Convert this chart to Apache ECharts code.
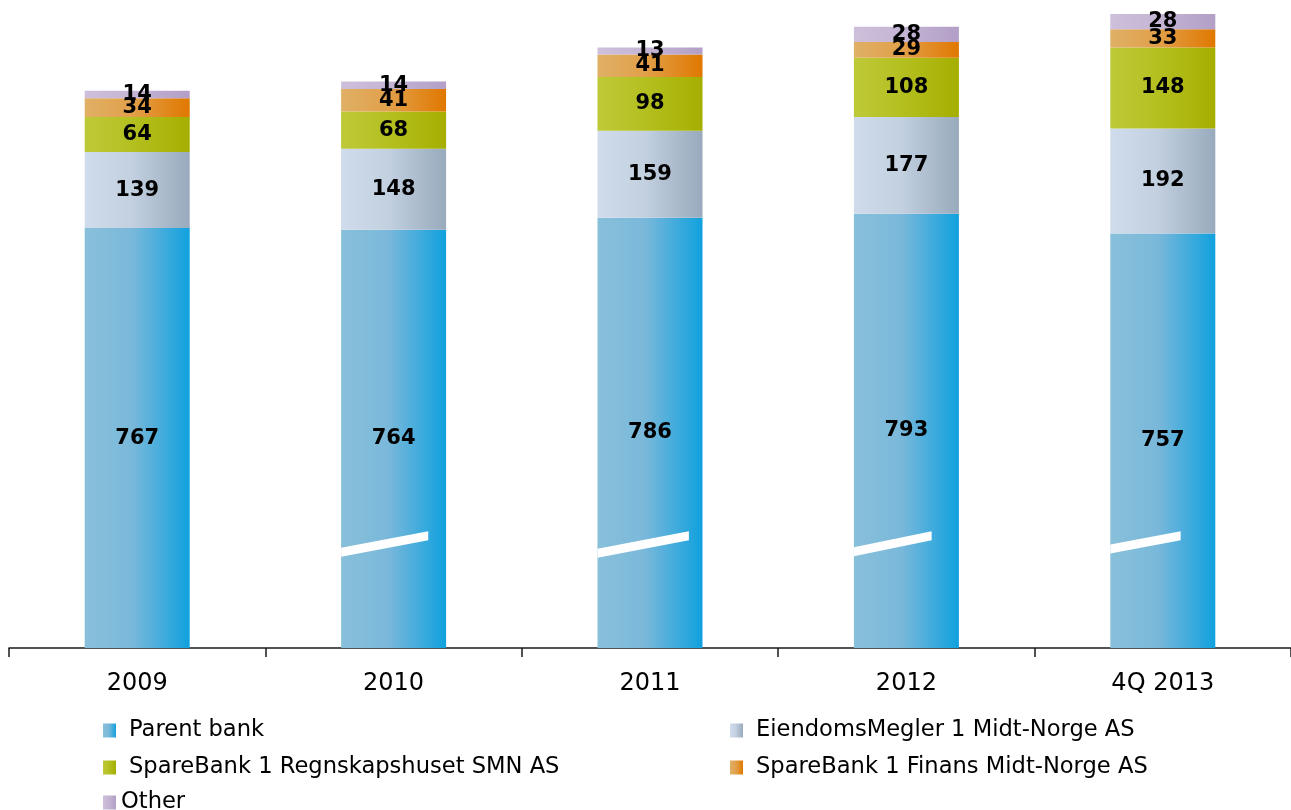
<!DOCTYPE html>
<html>
<head>
<meta charset="utf-8">
<script src="https://cdn.jsdelivr.net/npm/echarts@6/dist/echarts.min.js"></script>
<style>
html,body{margin:0;padding:0;background:#fff;}
#chart{width:1291px;height:810px;}
</style>
</head>
<body>
<div id="chart"></div>
<script>
const categories = ['2009', '2010', '2011', '2012', '4Q 2013'];
const parentBank = [767, 764, 786, 793, 757];
const eiendomsMegler = [139, 148, 159, 177, 192];
const regnskapshuset = [64, 68, 98, 108, 148];
const finans = [34, 41, 41, 29, 33];
const other = [14, 14, 13, 28, 28];

const seriesNames = [
  'Parent bank',
  'EiendomsMegler 1 Midt-Norge AS',
  'SpareBank 1 Regnskapshuset SMN AS',
  'SpareBank 1 Finans Midt-Norge AS',
  'Other'
];

// axis-break slash marks drawn on the parent-bank bars
const breakCats = ['2010', '2011', '2012', '4Q 2013'];
const breakLeft = [175, 173, 176, 181];
const breakRight = [205, 205, 205, 205];
const breakReach = [0.83, 0.87, 0.74, 0.67];

const FONT = 'DejaVu Sans';
const BAR_W = 105;

function grad(c0, c1, c2) {
  return new echarts.graphic.LinearGradient(0, 0, 1, 0, [
    {offset: 0, color: c0},
    {offset: 0.45, color: c1},
    {offset: 1, color: c2}
  ]);
}

const colors = [
  grad('#88C0DA', '#7AB8DA', '#10A1DE'),
  grad('#D0DCEB', '#C2D0E0', '#98AABC'),
  grad('#BEC938', '#B4C020', '#A5AE00'),
  grad('#DFB066', '#E2A04A', '#E07800'),
  grad('#CEC0DB', '#C4B5D4', '#B39FC7')
];

const valueSets = [parentBank, eiendomsMegler, regnskapshuset, finans, other];

const barSeries = valueSets.map((vals, i) => ({
  name: seriesNames[i],
  type: 'bar',
  stack: 'total',
  barWidth: BAR_W,
  data: vals,
  itemStyle: {color: colors[i]},
  label: {
    show: true,
    position: 'inside',
    color: '#000',
    fontFamily: FONT,
    fontWeight: 'bold',
    fontSize: 21
  },
  emphasis: {disabled: true}
}));

const breakData = breakCats.map((c, i) => [c, breakLeft[i], breakRight[i], breakReach[i]]);

const breakSeries = {
  name: 'break',
  type: 'custom',
  silent: true,
  z: 10,
  encode: {x: 0, y: [1, 2]},
  data: breakData,
  renderItem: function (params, api) {
    const cat = api.value(0);
    const pL = api.coord([cat, api.value(1)]);
    const pR = api.coord([cat, api.value(2)]);
    const x0 = pL[0] - BAR_W / 2;
    const x1 = x0 + BAR_W * api.value(3);
    const h = 4.5;
    return {
      type: 'polygon',
      shape: {points: [[x0, pL[1] - h], [x1, pR[1] - h], [x1, pR[1] + h], [x0, pL[1] + h]]},
      style: {fill: '#ffffff'}
    };
  }
};

const legendBase = {
  orient: 'vertical',
  itemWidth: 13,
  itemHeight: 14,
  itemGap: 14,
  padding: 0,
  icon: 'rect',
  selectedMode: false,
  textStyle: {fontFamily: FONT, fontSize: 22.6, color: '#000', lineHeight: 22, padding: [0, 0, 0, 8]}
};

const chart = echarts.init(document.getElementById('chart'), null, {renderer: 'canvas'});
chart.setOption({
  animation: false,
  backgroundColor: '#fff',
  grid: {left: 9, top: 2, width: 1284, height: 646, containLabel: false},
  xAxis: {
    type: 'category',
    data: categories,
    axisLine: {show: true, lineStyle: {color: '#1a1a1a', width: 1.5}},
    axisTick: {show: true, length: 9, lineStyle: {color: '#1a1a1a', width: 1.5}},
    axisLabel: {color: '#000', fontFamily: FONT, fontSize: 24, margin: 24}
  },
  yAxis: {
    type: 'value',
    min: 0,
    max: 1180,
    show: false,
    splitLine: {show: false}
  },
  legend: [
    Object.assign({}, legendBase, {left: 103, top: 719, data: [seriesNames[0], seriesNames[2]]}),
    Object.assign({}, legendBase, {left: 730, top: 719, data: [seriesNames[1], seriesNames[3]]}),
    Object.assign({}, legendBase, {left: 103, top: 791, data: [seriesNames[4]],
      textStyle: {fontFamily: FONT, fontSize: 22.6, color: '#000', lineHeight: 22, padding: [0, 0, 0, 0]}})
  ],
  series: barSeries.concat([breakSeries])
});
</script>
</body>
</html>
